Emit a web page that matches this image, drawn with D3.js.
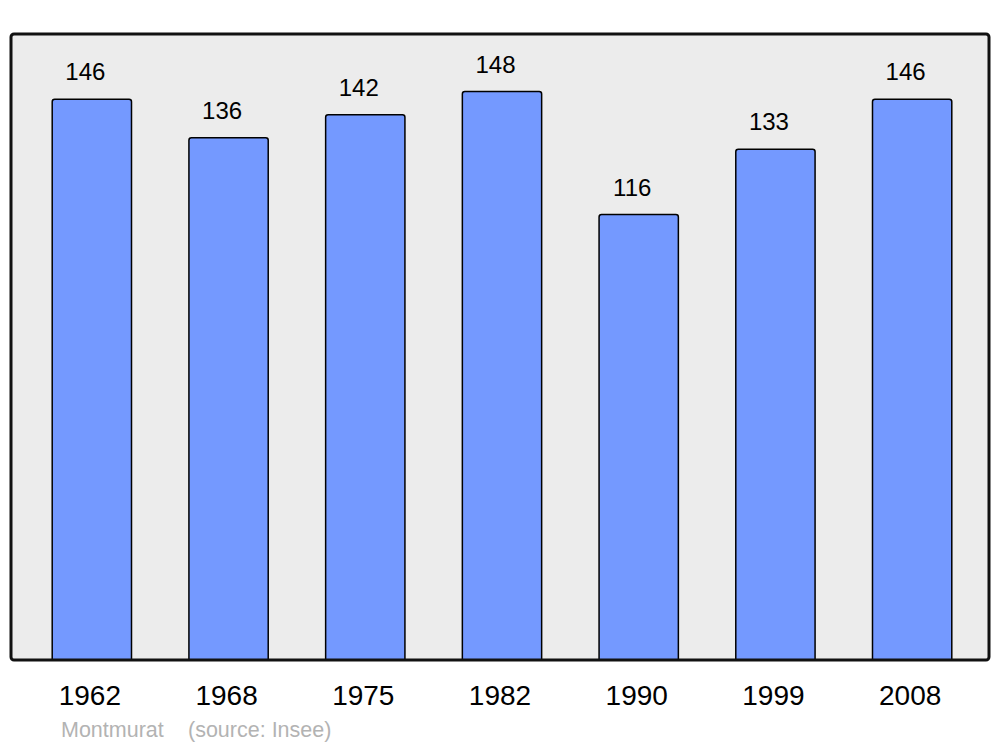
<!DOCTYPE html>
<html>
<head>
<meta charset="utf-8">
<script src="https://d3js.org/d3.v7.min.js"></script>
<style>
  body { margin: 0; background: #fff; }
  text { font-family: "Liberation Sans", Arial, sans-serif; }
</style>
</head>
<body>
<div id="chart"></div>
<script>
var years = ["1962", "1968", "1975", "1982", "1990", "1999", "2008"];
var population = [146, 136, 142, 148, 116, 133, 146];
var townName = "Montmurat";
var sourceText = "(source: Insee)";

var width = 1000, height = 747;
var plot = { left: 11, right: 989, top: 34, bottom: 660 };

var svg = d3.select("#chart").append("svg")
  .attr("width", width)
  .attr("height", height);

var x = d3.scaleBand()
  .domain(years)
  .range([23.5, 980.5])
  .paddingInner(0.42)
  .paddingOuter(0.21);

var y = d3.scaleLinear()
  .domain([0, 163])
  .range([plot.bottom, plot.top]);

// background panel
svg.append("rect")
  .attr("x", plot.left)
  .attr("y", plot.top)
  .attr("width", plot.right - plot.left)
  .attr("height", plot.bottom - plot.top)
  .attr("fill", "#ececec");

// bars with slightly rounded top corners
var r = 2.5;
svg.selectAll(".bar")
  .data(years)
  .enter().append("path")
  .attr("class", "bar")
  .attr("fill", "#7499ff")
  .attr("stroke", "#000")
  .attr("stroke-width", 1.5)
  .attr("d", function(d, i) {
    var x0 = x(d), x1 = x(d) + x.bandwidth();
    var top = y(population[i]), bot = plot.bottom;
    return "M" + x0 + "," + bot +
      "V" + (top + r) +
      "Q" + x0 + "," + top + " " + (x0 + r) + "," + top +
      "H" + (x1 - r) +
      "Q" + x1 + "," + top + " " + x1 + "," + (top + r) +
      "V" + bot;
  });

// value labels
svg.selectAll(".val")
  .data(years)
  .enter().append("text")
  .attr("class", "val")
  .attr("x", function(d) { return x(d) + x.bandwidth() / 2 - 6.5; })
  .attr("y", function(d, i) { return y(population[i]) - 19; })
  .attr("text-anchor", "middle")
  .style("font-size", "24px")
  .attr("fill", "#000")
  .text(function(d, i) { return population[i]; });

// frame
svg.append("rect")
  .attr("x", plot.left)
  .attr("y", plot.top)
  .attr("width", plot.right - plot.left)
  .attr("height", plot.bottom - plot.top)
  .attr("rx", 3)
  .attr("fill", "none")
  .attr("stroke", "#111")
  .attr("stroke-width", 3);

// year axis labels
svg.selectAll(".year")
  .data(years)
  .enter().append("text")
  .attr("class", "year")
  .attr("x", function(d) { return x(d) + x.bandwidth() / 2 - 2; })
  .attr("y", 705)
  .attr("text-anchor", "middle")
  .style("font-size", "28px")
  .attr("fill", "#000")
  .text(function(d) { return d; });

// source caption
svg.append("text")
  .attr("x", 61)
  .attr("y", 737)
  .style("font-size", "21.5px")
  .attr("fill", "#b3b3b3")
  .text(townName);

svg.append("text")
  .attr("x", 188)
  .attr("y", 737)
  .style("font-size", "21.5px")
  .attr("fill", "#b3b3b3")
  .text(sourceText);
</script>
</body>
</html>
